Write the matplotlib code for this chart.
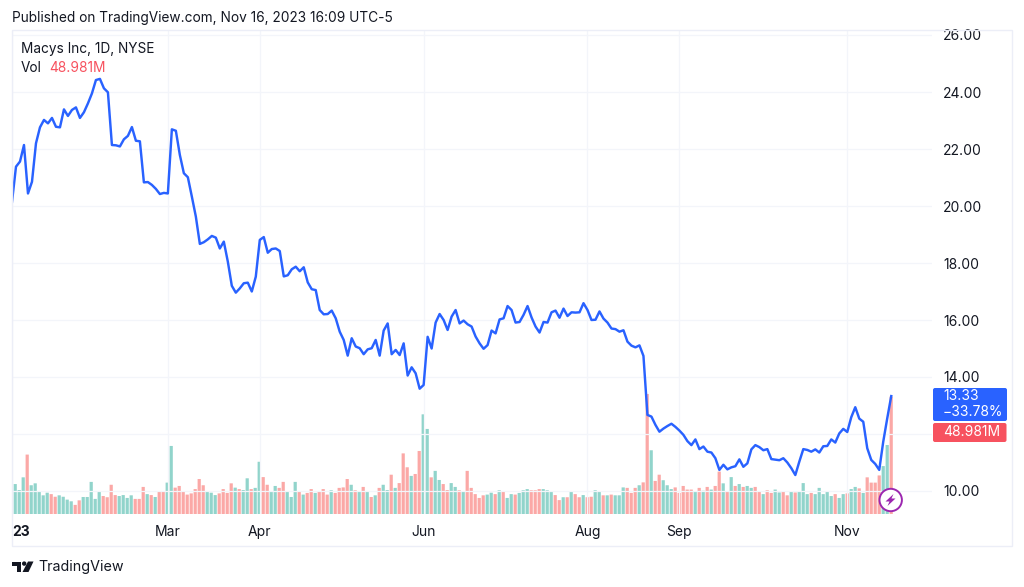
import matplotlib
matplotlib.use("Agg")
import matplotlib.pyplot as plt
from matplotlib.patches import FancyBboxPatch, Rectangle, Circle, Polygon

plt.rcParams['font.family'] = ['Inter', 'DejaVu Sans']

close = [
 20.15,21.38,21.56,22.14,20.44,20.85,22.20,22.76,23.02,22.90,
 23.09,22.78,22.76,23.39,23.16,23.37,23.46,23.09,23.29,23.60,
 23.95,24.42,24.46,24.13,23.99,22.14,22.13,22.09,22.34,22.46,
 22.77,22.29,22.27,20.83,20.84,20.74,20.60,20.42,20.46,20.44,
 22.69,22.64,21.79,21.15,21.01,20.33,19.63,18.67,18.73,18.83,
 18.95,18.89,18.51,18.75,18.05,17.20,16.96,17.11,17.29,17.31,
 17.00,17.52,18.81,18.91,18.36,18.49,18.51,18.42,17.53,17.57,
 17.78,17.87,17.71,17.85,17.32,17.08,17.05,16.35,16.20,16.21,
 16.33,16.06,15.59,15.30,14.75,15.36,15.07,15.01,14.80,14.97,
 15.01,15.30,14.75,15.63,15.88,14.80,14.95,14.77,15.18,14.05,
 14.34,14.13,13.59,13.72,15.41,15.00,15.91,16.21,16.00,15.65,
 16.12,16.35,15.88,15.98,15.85,15.77,15.42,15.18,14.99,15.12,
 15.63,15.53,16.02,16.06,16.49,16.35,15.91,15.93,16.18,16.49,
 16.09,15.77,15.56,15.93,15.91,16.27,16.33,16.08,16.40,16.14,
 16.27,16.26,16.27,16.59,16.35,16.00,16.01,16.30,16.05,15.91,
 15.70,15.68,15.59,15.64,15.24,15.10,15.04,15.11,14.74,12.67,
 12.61,12.32,12.08,12.19,12.28,12.36,12.25,12.12,11.97,11.75,
 11.61,11.81,11.47,11.56,11.38,11.35,11.15,10.74,10.92,10.76,
 10.83,10.87,11.11,10.85,10.97,11.46,11.61,11.54,11.43,11.47,
 11.12,11.10,11.08,11.15,11.00,10.80,10.56,11.03,11.47,11.44,
 11.38,11.46,11.35,11.57,11.58,11.81,11.70,12.02,12.18,12.07,
 12.59,12.94,12.54,12.43,11.50,11.09,10.95,10.74,11.73,12.55,
 13.33]

volume = [
 11.1,12.5,10.0,15.3,24.8,12.0,12.8,9.6,7.8,8.9,
 8.3,7.2,7.8,7.2,6.0,5.3,3.8,5.7,7.1,7.1,
 13.4,6.3,9.6,7.5,7.0,12.2,7.9,7.5,7.9,6.7,
 7.8,6.3,6.3,11.3,8.3,7.9,7.1,9.3,9.3,13.1,
 28.4,11.0,11.7,9.3,8.1,8.6,10.4,14.6,12.0,9.6,
 8.9,7.9,8.6,10.4,8.8,12.8,11.0,10.4,10.0,14.9,
 10.4,10.9,21.8,15.4,12.2,9.6,11.7,10.9,13.4,9.3,
 7.1,13.4,9.6,8.1,8.8,10.4,8.8,9.6,10.4,8.1,
 9.9,8.8,10.9,11.1,14.6,12.2,9.9,9.3,11.3,9.6,
 7.1,7.8,10.9,12.2,10.0,16.4,10.9,12.9,25.3,19.5,
 15.9,16.7,26.3,41.6,35.5,15.3,18.0,14.2,12.5,10.0,
 12.9,11.3,9.9,9.6,18.0,10.9,8.3,6.7,7.8,8.1,
 8.9,8.3,9.9,9.6,6.7,8.3,8.1,8.8,9.9,10.4,
 9.9,9.9,10.4,10.4,9.9,9.2,7.9,5.8,7.0,7.0,
 9.6,8.3,7.0,7.9,7.0,7.2,9.9,9.6,7.8,7.8,
 8.1,7.8,7.8,11.1,10.9,8.8,10.9,12.0,13.2,50.1,
 26.6,13.8,16.4,14.1,12.0,10.4,11.1,8.8,11.7,10.2,
 10.2,9.2,10.9,9.7,11.3,10.2,11.7,17.7,12.8,9.3,
 15.4,11.7,12.5,11.3,11.7,10.9,11.3,9.6,8.3,9.9,
 8.8,10.2,9.0,9.3,7.8,9.3,9.0,9.6,12.9,8.3,
 8.8,8.3,10.9,8.3,9.2,7.5,8.3,6.7,8.3,8.6,
 10.4,11.3,10.7,8.8,15.3,13.1,13.1,16.1,20.0,28.8,
 48.981]

direction = list(
 "rgggrggggg"
 "rrggggrrgg"
 "gggrrrrggg"
 "grrrgrgrrg"
 "grrrrrrrrg"
 "ggrrrrgrgg"
 "rggrrggrrg"
 "ggrgrrgrrr"
 "grrrrgrgrg"
 "rgrggrgrrr"
 "grrggrggrr"
 "ggrgrrrrrg"
 "grgrggrggg"
 "rrrgggrrgr"
 "grrgrrggrg"
 "rgggrrrgrr"
 "grrgggrrrr"
 "rgrgrgrrgr"
 "grgrggrrgr"
 "rggrrgrggg"
 "rgggggrggr"
 "ggrgrrrrggr"
)

tick_idx = [0, 39, 62, 103, 144, 167, 209]
tick_labels = ["23", "Mar", "Apr", "Jun", "Aug", "Sep", "Nov"]
price_ticks = [10, 12, 14, 16, 18, 20, 22, 24, 26]
price_labels = ["10.00", "", "14.00", "16.00", "18.00", "20.00", "22.00", "24.00", "26.00"]

W, H = 1024, 587
INK = "#131722"
GRID = "#f3f5fa"
BLUE = "#2962ff"
RED = "#f7525f"
fig = plt.figure(figsize=(W/100, H/100), dpi=100, facecolor="white")

L, R, T, B = 12, 932, 30, 514
rect = [L/W, 1-B/H, (R-L)/W, (B-T)/H]
xlim = ((L-11.2)/4, (R-11.2)/4)

axv = fig.add_axes(rect)
idx = list(range(len(close)))
cols = ["#fba8a6" if d == "r" else "#91d4cb" for d in direction]
bars = axv.bar(idx, volume, width=0.8, color=cols, linewidth=0)
for b in bars:
    b.set_snap(False)
axv.set_xlim(*xlim)
axv.set_ylim(0, 202)
axv.axis("off")

ax = fig.add_axes(rect)
ax.patch.set_alpha(0)
ax.plot(idx, close, color=BLUE, lw=1.75, solid_joinstyle="round", zorder=3)
ax.set_xlim(*xlim)
ax.set_ylim(26-(B-35)/28.5, 26+5/28.5)
for s in ax.spines.values():
    s.set_visible(False)
ax.yaxis.tick_right()
ax.set_yticks(price_ticks)
ax.set_yticklabels(price_labels)
ax.set_xticks(tick_idx)
ax.set_xticklabels(tick_labels)
ax.tick_params(axis="both", length=0, labelsize=10, labelcolor=INK)
ax.tick_params(axis="y", pad=8)
ax.tick_params(axis="x", pad=8)
ax.grid(True, color=GRID, lw=0.9, zorder=0)
ax.set_axisbelow(True)
first = ax.get_xticklabels()[0]
first.set_ha("left")
first.set_fontweight("bold")

# overlay in pixel coordinates for chrome: frame, tags, logo, badge
ov = fig.add_axes([0, 0, 1, 1])
ov.set_xlim(0, W)
ov.set_ylim(H, 0)
ov.axis("off")
ov.patch.set_alpha(0)
ov.add_patch(Rectangle((11.5, 30), 1000.5, 516, fill=False, ec="#eceef7", lw=1))

ov.text(12, 18, "Published on TradingView.com, Nov 16, 2023 16:09 UTC-5", fontsize=9.85, color=INK, va="center")
ov.text(21, 49, "Macys Inc, 1D, NYSE", fontsize=9.8, color=INK, va="center")
ov.text(21, 68, "Vol", fontsize=9.8, color=INK, va="center")
ov.text(49, 68, "48.981M", fontsize=9.9, color=RED, va="center")

ov.add_patch(FancyBboxPatch((933, 388), 74, 33, boxstyle="round,pad=0,rounding_size=2", fc=BLUE, ec="none"))
ov.add_patch(FancyBboxPatch((933, 423), 73.5, 19, boxstyle="round,pad=0,rounding_size=2", fc=RED, ec="none"))
ov.text(943, 396.5, f"{close[-1]:.2f}", fontsize=10, color="white", va="center")
ov.text(943, 412.5, "\u221233.78%", fontsize=10, color="white", va="center")
ov.text(943, 432.5, "48.981M", fontsize=10, color="white", va="center")

ov.add_patch(Circle((890.7, 500), 11.2, fc="white", ec="#9c27b0", lw=1.4))
ov.add_patch(Polygon([(893.5, 494), (885.5, 501.5), (889.5, 501.5), (887.5, 506), (895.5, 498.5), (891.5, 498.5)],
                     closed=True, fc="#9c27b0", ec="none"))

# TradingView logo
ov.add_patch(Polygon([(12, 561.5), (21, 561.5), (21, 572), (16.5, 572), (16.5, 566), (12, 566)], closed=True, fc=INK, ec="none"))
ov.add_patch(Circle((24.2, 563.6), 2.2, fc=INK, ec="none"))
ov.add_patch(Polygon([(28, 561.5), (33.5, 561.5), (28.5, 572), (22.5, 572)], closed=True, fc=INK, ec="none"))
ov.text(38, 567.5, "TradingView", fontsize=10.3, color=INK, va="center")

fig.savefig("out.png", dpi=100)
